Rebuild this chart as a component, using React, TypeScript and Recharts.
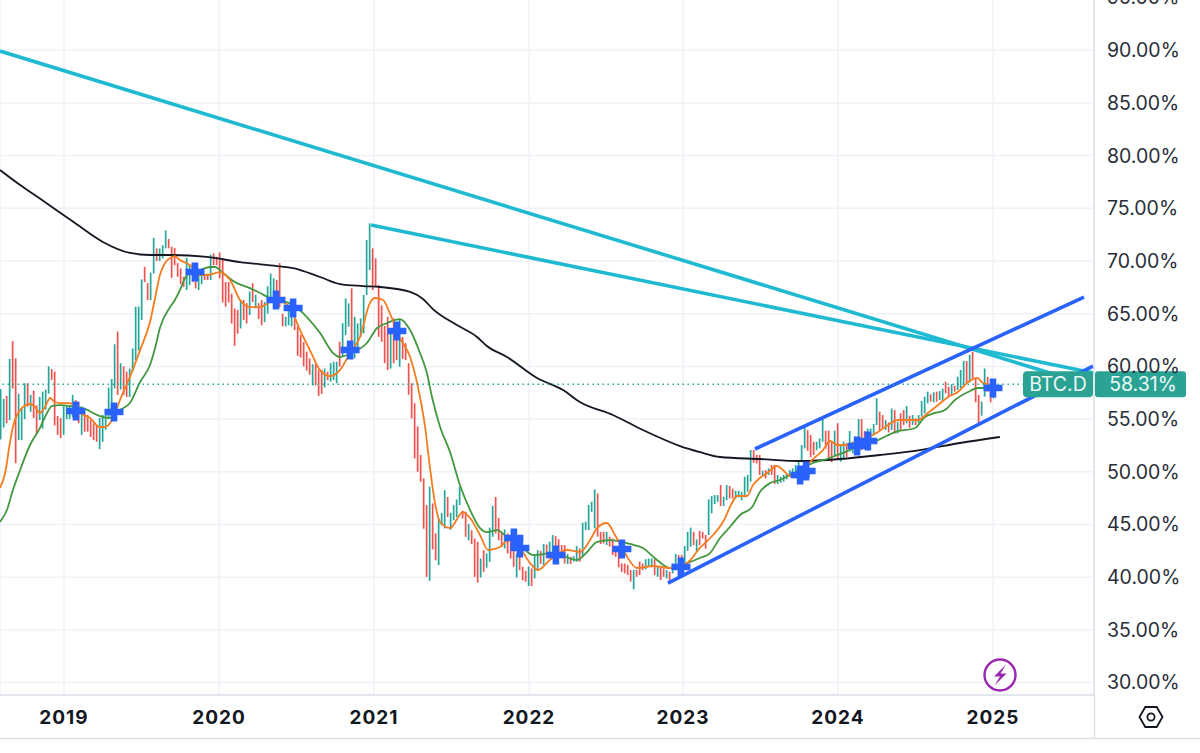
import React from "react";
import {
  Bar,
  CartesianGrid,
  ComposedChart,
  Line,
  ReferenceLine,
  Scatter,
  XAxis,
  YAxis,
} from "recharts";

const yearLabels = ["2019", "2020", "2021", "2022", "2023", "2024", "2025"];
const yearWeeks = [21.33, 73, 124.67, 176.33, 227.67, 279.33, 331];
const percentTicks = [30, 35, 40, 45, 50, 55, 60, 65, 70, 75, 80, 85, 90, 95];
const lastPrice = 58.31;
const symbol = "BTC.D";
const firstBarWeek = 0.22;

// [high, low, up(1) or down(0)] weekly
const bars2018: [number, number, number][] = [
  [57.85, 53.07, 1], [56.9, 54.2, 1], [57.2, 54.6, 0], [60.7, 54.9, 1], [62.4, 57.9, 0], [60.76, 50.8, 0],
  [57.4, 53.0, 1], [56.0, 53.0, 1], [58.4, 55.0, 1], [58.4, 56.2, 0], [57.3, 55.7, 1], [57.7, 55.1, 0],
  [56.3, 53.6, 0], [57.1, 54.9, 1], [57.6, 54.1, 1], [57.8, 55.9, 1], [60.0, 57.4, 1], [59.75, 58.7, 0],
  [59.5, 54.4, 0], [55.3, 53.5, 0], [55.1, 53.2, 0],
];
const bars2019: [number, number, number][] = [
  [56.2, 53.5, 1], [56.3, 55.0, 1], [56.2, 55.0, 1], [57.3, 55.2, 1], [56.8, 54.9, 0], [56.6, 54.6, 0],
  [56.2, 53.5, 1], [55.5, 53.8, 0], [55.4, 53.8, 0], [54.9, 53.3, 0], [54.6, 53.0, 0], [54.4, 52.85, 0],
  [55.1, 52.15, 1], [55.4, 52.85, 1], [55.4, 54.0, 1], [58.0, 55.1, 1], [58.8, 55.2, 1], [62.1, 57.9, 1],
  [63.3, 57.3, 0], [60.3, 57.8, 1], [60.0, 57.3, 0], [59.5, 57.1, 0], [59.8, 57.1, 1], [61.7, 59.5, 1],
  [65.66, 60.6, 1], [65.66, 61.5, 1], [68.25, 64.4, 1], [69.45, 68.0, 0], [67.9, 66.3, 0], [68.9, 66.3, 1],
  [72.2, 68.8, 1], [71.2, 70.0, 0], [71.2, 70.0, 1], [71.5, 70.25, 1], [72.9, 71.2, 1], [72.1, 71.2, 0],
  [71.35, 68.4, 0], [71.25, 69.6, 0], [69.8, 68.5, 0], [69.3, 67.8, 0], [68.5, 67.55, 0], [70.3, 67.25, 1],
  [69.6, 67.7, 1], [69.8, 68.0, 0], [69.0, 67.4, 0], [68.7, 67.25, 1], [68.8, 67.8, 1], [68.7, 68.2, 0],
  [68.8, 68.2, 0], [70.6, 68.2, 1], [70.7, 69.6, 0], [70.4, 69.6, 0],
];
const bars2020: [number, number, number][] = [
  [70.8, 68.35, 0], [70.25, 66.07, 0], [68.0, 65.66, 0], [68.0, 66.07, 0], [66.9, 64.07, 0], [65.5, 61.95, 0],
  [65.35, 63.1, 0], [66.3, 63.6, 1], [66.3, 64.4, 0], [66.0, 64.07, 0], [67.1, 64.87, 1], [67.9, 66.1, 0],
  [66.8, 65.5, 1], [66.0, 64.5, 0], [66.3, 63.9, 0], [66.1, 64.2, 1], [67.6, 65.0, 1], [68.8, 66.0, 1],
  [68.35, 66.3, 1], [68.2, 65.7, 0], [69.8, 65.6, 0], [65.0, 63.8, 0], [64.7, 63.8, 1], [65.35, 63.9, 1],
  [64.9, 63.8, 1], [64.55, 63.45, 0], [63.8, 61.0, 0], [63.0, 60.85, 0], [62.3, 60.0, 0], [61.4, 59.6, 0],
  [60.76, 59.2, 0], [60.2, 58.2, 1], [60.2, 58.2, 0], [59.65, 57.2, 0], [59.65, 57.4, 0], [59.8, 58.0, 1],
  [59.5, 58.7, 0], [60.3, 58.55, 1], [60.44, 58.7, 1], [60.44, 58.4, 1], [62.34, 59.97, 0], [64.1, 60.9, 1],
  [66.45, 62.97, 1], [65.98, 63.76, 1], [67.4, 60.76, 0], [64.7, 60.76, 1], [64.08, 61.7, 1], [64.55, 62.8, 1],
  [66.77, 63.13, 1], [71.99, 66.77, 1], [73.57, 69.14, 1],
];
const bars2021: [number, number, number][] = [
  [71.2, 67.25, 0], [70.25, 67.56, 0], [67.72, 62.8, 0], [65.8, 62.34, 0], [63.83, 60.3, 0], [64.7, 59.65, 0],
  [63.13, 59.8, 1], [64.55, 60.3, 0], [63.13, 60.6, 0], [64.4, 59.97, 1], [62.8, 60.7, 0], [62.2, 60.6, 0],
  [60.3, 57.3, 0], [58.4, 55.06, 0], [56.5, 51.27, 0], [54.3, 50.0, 0], [51.6, 49.05, 0], [49.37, 44.6, 0],
  [46.84, 40.03, 0], [48.58, 39.65, 1], [47.0, 42.63, 0], [44.15, 41.6, 0], [45.57, 41.14, 1], [46.1, 44.94, 1],
  [48.26, 44.62, 1], [47.6, 45.7, 0], [46.1, 44.5, 1], [46.84, 45.4, 1], [47.37, 45.7, 1], [48.58, 46.84, 1],
  [46.3, 45.57, 0], [46.2, 43.83, 0], [45.03, 43.5, 1], [44.46, 43.13, 0], [43.67, 40.03, 0], [43.35, 39.49, 0],
  [41.77, 39.97, 1], [42.56, 40.5, 0], [42.25, 40.9, 1], [44.7, 41.46, 1], [46.77, 43.83, 1], [47.6, 44.15, 0],
  [45.63, 43.5, 0], [44.3, 42.88, 0], [44.53, 42.72, 1], [44.15, 42.25, 0], [43.35, 41.77, 0], [42.72, 40.98, 0],
  [42.25, 39.97, 1], [42.9, 40.66, 0], [40.98, 39.7, 0],
];
const bars2022: [number, number, number][] = [
  [40.6, 39.56, 0], [41.0, 39.16, 1], [40.83, 39.16, 0], [42.2, 39.88, 1], [42.57, 40.68, 1], [42.5, 41.25, 0],
  [43.14, 41.15, 1], [43.1, 41.78, 0], [43.37, 41.78, 1], [44.0, 42.1, 1], [43.9, 42.4, 0], [43.6, 42.26, 0],
  [43.05, 41.78, 0], [43.05, 41.3, 0], [42.2, 41.25, 1], [41.94, 41.25, 0], [42.0, 41.47, 1], [42.95, 41.47, 1],
  [42.73, 41.47, 0], [45.17, 41.94, 1], [45.26, 44.47, 1], [46.85, 44.47, 1], [47.16, 46.2, 1], [48.33, 44.63, 1],
  [47.95, 43.84, 0], [44.3, 43.14, 0], [44.3, 43.2, 0], [44.3, 43.05, 1], [43.84, 42.9, 0], [43.68, 42.1, 0],
  [42.73, 41.94, 0], [42.73, 40.93, 0], [41.3, 40.5, 0], [41.3, 40.36, 0], [41.15, 40.2, 0], [40.68, 39.57, 0],
  [40.68, 38.84, 1], [40.68, 40.04, 0], [41.47, 40.2, 0], [41.3, 40.68, 0], [41.7, 40.74, 1], [41.78, 40.99, 1],
  [41.78, 40.93, 1], [41.7, 40.2, 0], [41.0, 40.04, 1], [40.93, 39.73, 0], [40.83, 40.04, 0], [40.68, 39.88, 1],
  [40.52, 39.57, 0], [41.3, 40.36, 1], [42.2, 40.68, 1], [42.1, 40.2, 0], [42.1, 40.5, 0], [42.95, 40.68, 1],
];
const bars2023: [number, number, number][] = [
  [44.3, 42.5, 1], [44.7, 42.9, 1], [44.3, 43.04, 0], [43.58, 42.4, 1], [44.4, 43.04, 0], [44.3, 43.67, 0],
  [44.0, 42.7, 0], [47.38, 44.0, 1], [47.7, 46.05, 1], [47.79, 46.93, 1], [47.79, 47.16, 1], [48.74, 46.75, 0],
  [47.63, 46.75, 1], [48.74, 47.3, 1], [48.65, 47.47, 0], [48.4, 47.47, 0], [48.2, 47.47, 1], [48.2, 47.57, 1],
  [48.1, 47.3, 1], [49.53, 47.57, 1], [49.7, 48.1, 1], [52.06, 49.06, 1], [52.06, 50.86, 0], [51.6, 50.8, 0],
  [51.59, 49.7, 0], [50.1, 49.53, 1], [50.16, 49.37, 0], [50.32, 49.7, 1], [50.64, 49.7, 0], [50.64, 48.83, 0],
  [49.7, 48.83, 1], [49.53, 48.96, 1], [49.7, 49.06, 1], [49.85, 49.28, 1], [50.16, 49.53, 1], [50.32, 49.7, 1],
  [50.64, 49.37, 1], [50.95, 49.85, 1], [52.54, 50.95, 1], [54.44, 52.22, 1], [53.96, 52.0, 0], [53.49, 51.37, 0],
  [52.85, 51.59, 0], [52.85, 52.06, 1], [53.17, 52.22, 1], [55.1, 52.85, 1], [53.9, 52.2, 0], [53.9, 51.1, 0],
  [52.85, 50.9, 0], [53.9, 51.5, 1],
];
const bars2024: [number, number, number][] = [
  [54.6, 51.1, 0], [52.54, 50.95, 1], [52.85, 51.27, 1], [52.7, 51.4, 0], [53.87, 51.9, 1], [52.85, 51.75, 1],
  [53.33, 51.9, 0], [55.0, 52.06, 1], [55.0, 52.06, 0], [53.87, 52.22, 0], [54.1, 52.06, 1], [54.1, 53.17, 1],
  [54.53, 53.5, 1], [56.97, 54.44, 1], [55.7, 53.96, 0], [55.38, 54.12, 0], [54.9, 53.96, 1], [54.69, 53.74, 0],
  [56.0, 53.96, 1], [55.86, 53.64, 0], [54.75, 53.64, 1], [55.54, 53.96, 0], [55.86, 54.44, 0], [56.24, 54.6, 1],
  [55.32, 54.18, 0], [55.38, 54.44, 1], [55.07, 54.44, 0], [55.38, 54.6, 1], [56.71, 55.23, 1], [57.13, 55.54, 1],
  [57.6, 56.49, 1], [57.35, 56.65, 0], [57.54, 56.59, 1], [57.6, 56.65, 0], [57.66, 56.81, 1], [57.9, 56.71, 1],
  [58.55, 57.44, 0], [58.07, 57.13, 0], [58.3, 57.28, 1], [58.17, 57.6, 0], [59.02, 57.76, 1], [59.66, 57.92, 1],
  [60.51, 58.23, 1], [60.51, 58.49, 0], [61.08, 58.49, 1], [61.4, 58.87, 0], [58.87, 56.59, 0], [57.28, 54.6, 0],
  [56.65, 55.32, 1], [59.8, 57.13, 1], [59.0, 57.6, 0], [58.3, 56.59, 0], [58.55, 56.97, 1],
];

// [week, percent]
const fastMa: [number, number][] = [
  [0, 48.46], [1.7, 49.88], [3.3, 52.73], [4.3, 54.25], [7.3, 56.05], [10, 56.43], [11.7, 56.14], [13.3, 55.58],
  [15, 56.14], [16.7, 57.0], [18.3, 56.62], [20, 56.52], [23.3, 56.52], [26.7, 55.58], [30, 55.1], [33.3, 54.25],
  [35, 54.25], [37.7, 55.1], [40, 56.81], [41.7, 57.95], [43.3, 59.0], [46.7, 61.55], [50, 64.21], [51.7, 66.49],
  [53.3, 68.67], [55, 69.81], [56.7, 70.28], [58.3, 70.47], [60, 70.09], [63.3, 69.62], [66.7, 68.67], [69, 68.67],
  [73.3, 68.95], [76.7, 68.19], [80, 66.3], [83.3, 65.63], [86.7, 65.63], [90, 66.11], [92.3, 66.3], [96.7, 65.54],
  [100, 63.45], [103.3, 61.55], [106.7, 59.65], [110, 59.08], [113.3, 59.65], [116.7, 61.27], [120, 62.79],
  [123.3, 66.01], [125, 66.49], [127.7, 66.3], [130, 65.0], [133.3, 62.69], [136.7, 60.89], [140, 57.09],
  [141.7, 54.25], [143.3, 50.45], [145, 47.03], [146.7, 45.23], [150, 44.66], [154.3, 46.18], [156.7, 45.61],
  [160, 44.0], [162.7, 42.58], [166.7, 42.86], [169.3, 43.52], [173.3, 42.77], [176.7, 41.34], [179.3, 40.68],
  [183.3, 41.63], [189, 42.58], [193.3, 42.39], [196.7, 43.52], [199, 44.66], [202.3, 45.14], [205, 44.0],
  [208.3, 42.29], [212.3, 40.87], [217.7, 41.06], [223.3, 40.87], [229, 41.34], [233.3, 42.77], [237.7, 44.0],
  [241, 45.23], [244, 47.03], [245.7, 47.7], [249, 47.7], [251, 48.74], [253.3, 49.41], [255.7, 49.88], [259, 50.55],
  [261, 50.17], [263.3, 49.6], [267.7, 50.17], [270.7, 51.12], [274.3, 52.06], [276.7, 52.92], [279, 52.54],
  [281.7, 52.54], [285, 52.82], [292.7, 53.77], [296, 54.44], [299.3, 54.91], [302.7, 54.91], [306, 54.91],
  [309.3, 55.58], [312.7, 56.33], [316, 57.09], [319.3, 57.57], [322.7, 58.52], [325.7, 58.9], [327.7, 58.42],
  [330.7, 58.23],
];
const slowMa: [number, number][] = [
  [0, 45.23], [2.3, 46.37], [4.3, 48.27], [6.7, 50.17], [10, 52.54], [13.3, 54.15], [15, 55.2], [17.3, 56.24],
  [20, 56.33], [23.3, 56.24], [28.3, 55.96], [33.3, 55.29], [36.7, 55.1], [40, 55.86], [43.3, 56.52], [46.7, 58.52],
  [50, 60.13], [51.7, 61.74], [53.3, 63.64], [56.7, 65.63], [58.3, 66.3], [60, 67.25], [61.7, 68.38], [63.3, 68.95],
  [66.7, 69.14], [70, 69.43], [71.7, 69.43], [74.3, 68.86], [78.3, 68.0], [83.3, 67.43], [86.7, 66.96], [90, 66.49],
  [93.3, 66.3], [97.7, 65.82], [102.3, 64.68], [106.7, 63.16], [111, 61.27], [113.3, 60.89], [117.7, 61.36],
  [122.3, 62.22], [125.7, 63.64], [129, 64.11], [133.3, 64.49], [136.7, 63.45], [140, 61.27], [142.3, 59.37],
  [144, 57.09], [146.7, 54.25], [150, 51.87], [153.3, 48.74], [156.7, 46.37], [160, 44.66], [162.3, 44.28],
  [165.7, 44.47], [169, 43.81], [173.3, 43.05], [177.7, 42.1], [184.3, 42.29], [192.3, 41.63], [195.7, 42.39],
  [199, 43.34], [203.3, 43.52], [210, 43.15], [214.3, 42.77], [219, 41.63], [223.3, 40.87], [229, 41.34],
  [233.3, 41.82], [236.7, 42.29], [240, 43.71], [243.3, 44.76], [246.7, 45.9], [250.7, 46.66], [253.3, 48.08],
  [256.7, 48.93], [260, 49.22], [263.3, 49.69], [266.7, 50.17], [271, 50.83], [275.7, 51.21], [279, 51.59],
  [281.7, 51.87], [285, 52.35], [292.7, 53.01], [298.3, 53.77], [305, 54.15], [308.3, 55.2], [311.7, 55.58],
  [315, 55.86], [318.3, 56.81], [322.7, 57.57], [326, 57.95], [330.7, 57.95],
];
const longMa: [number, number][] = [
  [0, 78.63], [6.7, 77.21], [14, 75.78], [25, 73.6], [34.3, 71.8], [43.3, 70.76], [50, 70.57], [57.3, 70.57],
  [69, 70.38], [80, 69.9], [92.3, 69.52], [97.7, 69.33], [106.7, 68.48], [113.3, 67.81], [121, 67.62], [126.7, 67.53],
  [136.7, 67.06], [141, 66.39], [144.3, 65.44], [152.3, 63.92], [159, 62.79], [162.3, 61.93], [169, 60.89],
  [179, 58.9], [187.7, 57.76], [193.3, 56.62], [204.3, 55.39], [214.3, 53.96], [226.7, 52.44], [233.3, 51.87],
  [240, 51.4], [253.3, 51.21], [266.7, 51.02], [280, 51.21], [293.3, 51.59], [306.7, 52.06], [320, 52.73], [333.3, 53.3],
];
const trendUpperLong: [number, number][] = [[0, 89.92], [353.3, 59.09]];
const trendUpperShort: [number, number][] = [[123.67, 73.41], [364.67, 59.37]];
const channelTop: [number, number][] = [[251.67, 52.16], [361.33, 66.58]];
const channelBottom: [number, number][] = [[222.67, 39.44], [364.33, 60.03]];
const crossMarks: [number, number][] = [
  [25.3, 55.77], [38, 55.67], [65, 68.95], [92, 66.3], [97.7, 65.54], [116.7, 61.55], [132.3, 63.36], [171.3, 43.72],
  [173.3, 42.77], [185.3, 42.1], [207.3, 42.67], [227, 40.96], [266.7, 49.69], [268.7, 50.07], [285.7, 52.44],
  [289.3, 52.92], [331, 57.95],
];

const barRows = [...bars2018, ...bars2019, ...bars2020, ...bars2021, ...bars2022, ...bars2023, ...bars2024].map(
  ([high, low, up], i) => ({ x: i + firstBarWeek, range: [low, high], up }),
);
const toPoints = (rows: [number, number][]) => rows.map(([x, v]) => ({ x, v }));

const UP = "#26a69a";
const DOWN = "#ef5350";
const CYAN = "#1fbad1";
const BLUE = "#2962ff";
const FONT = "Inter, 'Noto Sans', sans-serif";

const RangeBarShape = (p: any) => {
  const w = 1.7;
  const top = Math.min(p.y, p.y + p.height);
  return (
    <rect
      x={p.x + p.width / 2 - w / 2}
      y={top}
      width={w}
      height={Math.abs(p.height)}
      fill={p.payload.up ? UP : DOWN}
    />
  );
};

const CrossShape = (p: any) => {
  const { cx, cy } = p;
  const a = 9.5;
  const b = 3.3;
  return (
    <path
      fill={BLUE}
      d={`M${cx - b} ${cy - a}h${2 * b}v${a - b}h${a - b}v${2 * b}h${-(a - b)}v${a - b}h${-2 * b}v${-(a - b)}h${-(a - b)}v${-2 * b}h${a - b}z`}
    />
  );
};

const PriceTag = (p: any) => {
  const y = p.viewBox.y;
  const top = y - 13;
  return (
    <g style={{ fontFamily: FONT, fontSize: 19.5 }}>
      <rect x={1023} y={top} width={70} height={26} rx={4} fill="#2aa394" />
      <rect x={1095} y={top} width={91} height={26} rx={3} fill="#2aa394" />
      <text x={1058} y={y + 7} textAnchor="middle" fill="#eef8f6">{symbol}</text>
      <text x={1143} y={y + 7} textAnchor="middle" fill="#eef8f6">{lastPrice.toFixed(2)}%</text>
    </g>
  );
};

const lineProps = { dataKey: "v", dot: false, activeDot: false, isAnimationActive: false, legendType: "none" as const };

export default function App() {
  return (
    <div style={{ position: "absolute", left: 0, top: 0, width: 1200, height: 753, overflow: "hidden", background: "#fff" }}>
      <div style={{ position: "absolute", left: 0, top: -20 }}>
        <ComposedChart
          width={1200}
          height={773}
          data={barRows}
          margin={{ top: 0, right: 0, bottom: 15, left: 0 }}
        >
          <CartesianGrid stroke="#f0f2f7" strokeWidth={1.5} />
          <XAxis
            dataKey="x"
            type="number"
            domain={[0, 364.67]}
            allowDataOverflow
            ticks={yearWeeks}
            interval={0}
            height={43}
            tickLine={false}
            axisLine={{ stroke: "#dfe1e9", strokeWidth: 1.5 }}
            tickMargin={10}
            tickFormatter={(w: number) => yearLabels[yearWeeks.indexOf(w)]}
            tick={{ fontFamily: FONT, fontSize: 19, fontWeight: 700, fill: "#131722", letterSpacing: 1 }}
          />
          <YAxis
            orientation="right"
            type="number"
            width={106}
            domain={[28.82, 96.66]}
            allowDataOverflow
            ticks={percentTicks}
            interval={0}
            tickLine={false}
            axisLine={{ stroke: "#dfe1e9", strokeWidth: 1.5 }}
            tickMargin={7}
            tickFormatter={(v: number) => `${v.toFixed(2)}%`}
            tick={{ fontFamily: FONT, fontSize: 19.5, fill: "#2a2e39" }}
          />
          <Bar dataKey="range" barSize={2} shape={RangeBarShape} isAnimationActive={false} legendType="none" />
          <Line {...lineProps} data={toPoints(longMa)} type="monotone" stroke="#131722" strokeWidth={1.8} />
          <Line {...lineProps} data={toPoints(slowMa)} type="monotone" stroke="#43983f" strokeWidth={1.8} />
          <Line {...lineProps} data={toPoints(fastMa)} type="monotone" stroke="#f57c1f" strokeWidth={1.8} />
          <Line {...lineProps} data={toPoints(trendUpperLong)} type="linear" stroke={CYAN} strokeWidth={3.6} />
          <Line {...lineProps} data={toPoints(trendUpperShort)} type="linear" stroke={CYAN} strokeWidth={3.6} />
          <Line {...lineProps} data={toPoints(channelTop)} type="linear" stroke={BLUE} strokeWidth={3.6} />
          <Line {...lineProps} data={toPoints(channelBottom)} type="linear" stroke={BLUE} strokeWidth={3.6} />
          <Scatter data={toPoints(crossMarks)} dataKey="v" shape={CrossShape} isAnimationActive={false} legendType="none" />
          <ReferenceLine
            y={lastPrice}
            stroke={UP}
            strokeWidth={1.4}
            strokeDasharray="1.5 3.5"
            label={<PriceTag />}
          />
        </ComposedChart>
      </div>
      <svg
        width={1200}
        height={753}
        style={{ position: "absolute", left: 0, top: 0, pointerEvents: "none" }}
      >
        <line x1={0} x2={1200} y1={738.5} y2={738.5} stroke="#dfe1e9" strokeWidth={1.5} />
        <line x1={1094.5} x2={1094.5} y1={695} y2={738.5} stroke="#dfe1e9" strokeWidth={1.5} />
        <circle cx={1000} cy={675} r={15.5} fill="#fff" stroke="#9c27b0" strokeWidth={2.4} />
        <path d="M1006 664.5 L994 676.5 L1000 676.5 L994.5 685.5 L1006.5 673.5 L1000.5 673.5 Z" fill="#9c27b0" />
        <path
          d="M1139.5 717 L1145.3 707 L1156.7 707 L1162.5 717 L1156.7 727 L1145.3 727 Z"
          fill="none"
          stroke="#131722"
          strokeWidth={1.8}
        />
        <circle cx={1151} cy={717} r={3.6} fill="none" stroke="#131722" strokeWidth={1.8} />
      </svg>
    </div>
  );
}
